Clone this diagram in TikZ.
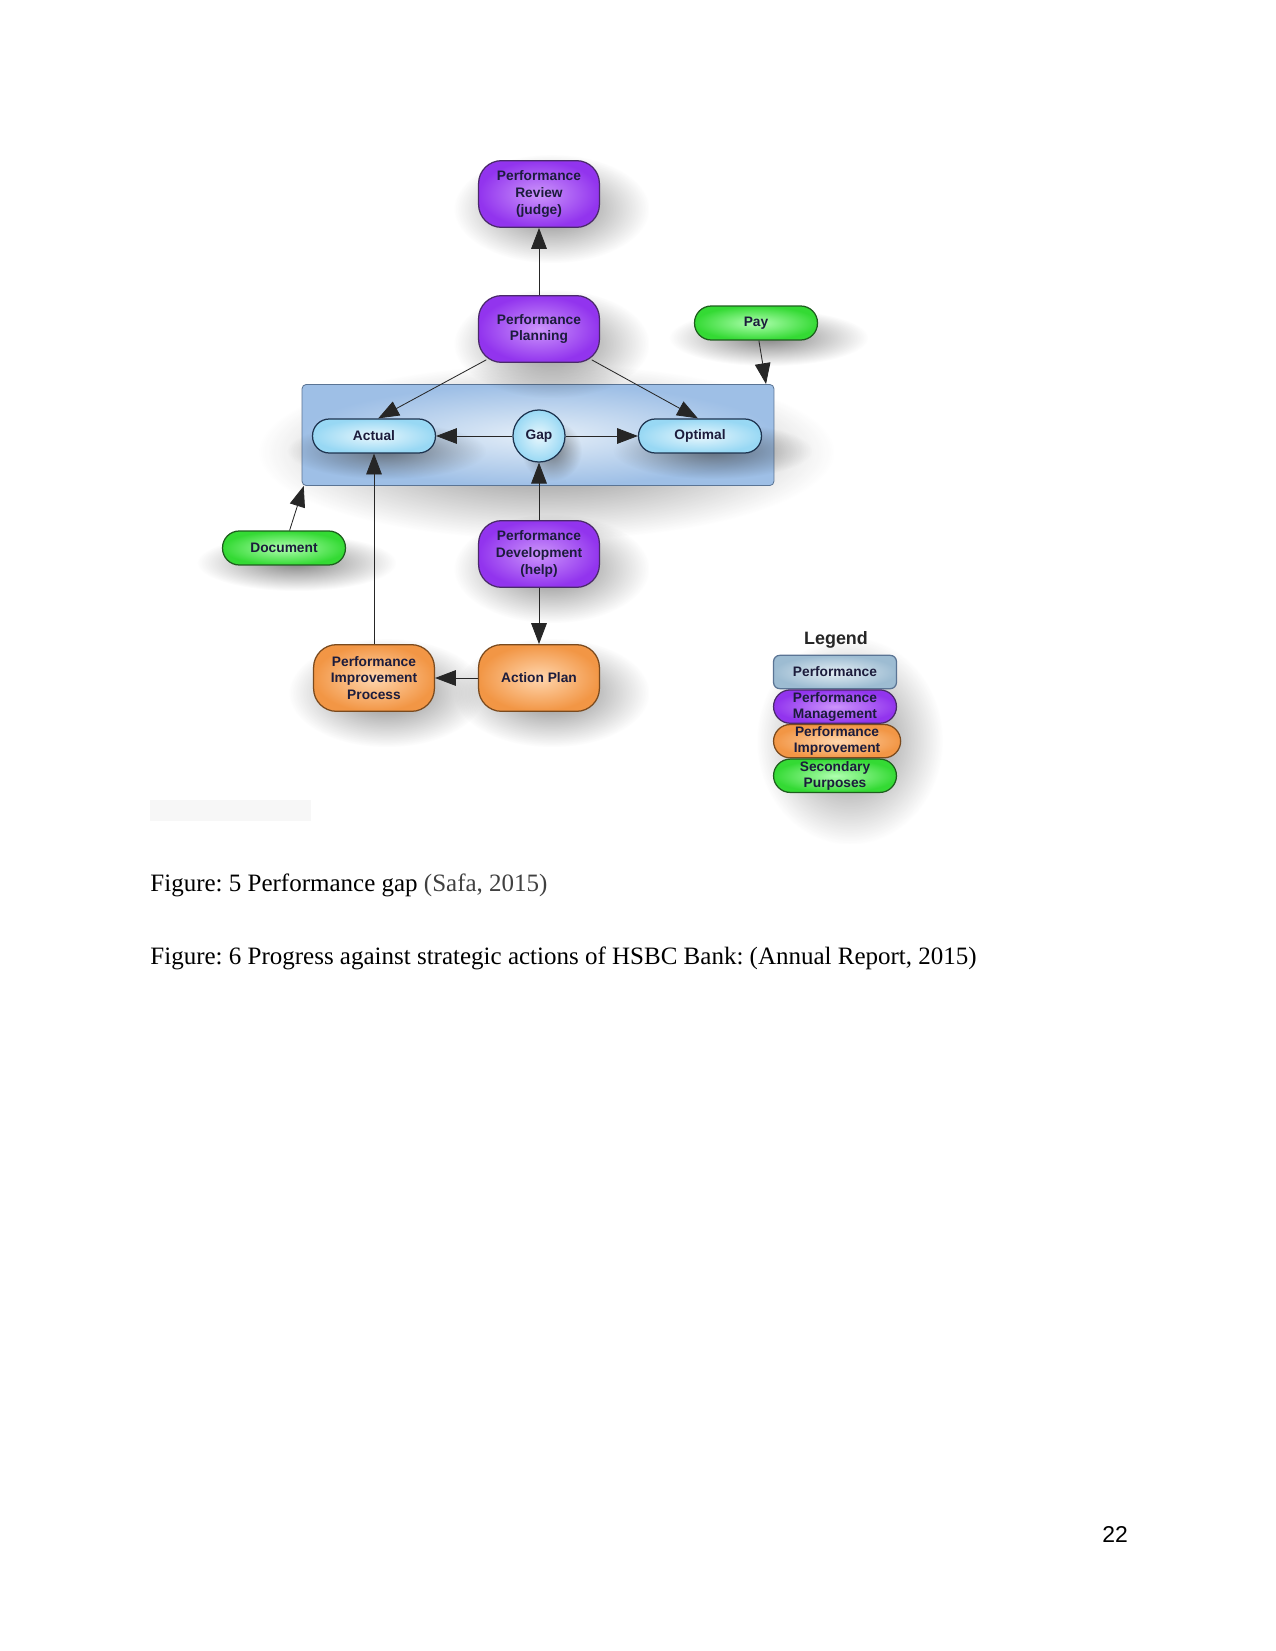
\documentclass[tikz,border=0pt]{standalone}
\usepackage{fontspec}
\setmainfont{Liberation Serif}
\setsansfont{Liberation Sans}
\frenchspacing
\usepackage{xcolor}
\definecolor{ink}{HTML}{1C1C3C}
\definecolor{cMgmtBg}{HTML}{9234EE}
\definecolor{cMgmtIn}{HTML}{CC95FB}
\definecolor{cMgmtFr}{HTML}{4A2A6A}
\definecolor{cImpBg}{HTML}{F29645}
\definecolor{cImpIn}{HTML}{FFD6AE}
\definecolor{cImpFr}{HTML}{7A4A1E}
\definecolor{cSecBg}{HTML}{34DA34}
\definecolor{cSecIn}{HTML}{B0FFB0}
\definecolor{cSecFr}{HTML}{1E5E1E}
\definecolor{cPerfBg}{HTML}{98D8F4}
\definecolor{cPerfIn}{HTML}{E8F7FD}
\definecolor{cPerfFr}{HTML}{1E3450}
\definecolor{cAreaBg}{HTML}{9EBFE6}
\definecolor{cAreaIn}{HTML}{E4EEF8}
\definecolor{cAreaFr}{HTML}{5A7494}
\definecolor{cLgdBg}{HTML}{9DBCD2}
\definecolor{cLgdIn}{HTML}{E4EEF4}
\usepackage{tikz}
\usetikzlibrary{arrows.meta,positioning,calc,fadings}
\tikzfading[name=shadowfade,inner color=transparent!40,outer color=transparent!100]
\pgfdeclarelayer{bg}
\pgfdeclarelayer{area}
\pgfdeclarelayer{nodeshadow}
\pgfsetlayers{bg,area,nodeshadow,main}
\newcommand\boxfont{\fontsize{6.6}{8.1}\selectfont\sffamily\bfseries}
\newcommand\lgdfont{\fontsize{6.6}{7.6}\selectfont\sffamily\bfseries}
\tikzset{>={Triangle[length=10pt,width=7.5pt]},
  shadowblob/.style={fill=black!80,path fading=shadowfade},
  nodetxt/.style={align=center,font=\boxfont,text=ink,inner sep=1pt},
  mgmtbox/.style={nodetxt,draw=cMgmtFr,semithick,rounded corners=11pt,
    minimum width=58pt,minimum height=32pt,inner color=cMgmtIn,outer color=cMgmtBg},
  impbox/.style={mgmtbox,draw=cImpFr,inner color=cImpIn,outer color=cImpBg},
  secpill/.style={nodetxt,draw=cSecFr,semithick,rounded corners=8pt,
    minimum width=59pt,minimum height=16.3pt,inner color=cSecIn,outer color=cSecBg},
  perfpill/.style={secpill,draw=cPerfFr,inner color=cPerfIn,outer color=cPerfBg},
  gapcircle/.style={nodetxt,circle,draw=cPerfFr,semithick,minimum size=25pt,
    inner color=cPerfIn,outer color=cPerfBg},
  perfarea/.style={draw=cAreaFr,rounded corners=2pt,minimum width=226.5pt,
    minimum height=48.5pt,inner color=cAreaIn,outer color=cAreaBg},
  lgdbox/.style={font=\lgdfont,text=ink,align=center,inner sep=0pt,semithick,
    minimum width=59pt,minimum height=16pt},
  flow/.style={->,thin,black!85},
  caption/.style={anchor=base west,inner sep=0pt,font=\fontsize{12}{14}\selectfont}}

\begin{document}
\begin{tikzpicture}[x=0.48pt,y=-0.48pt]
  \begin{pgfonlayer}{bg}
    \fill[white] (0,0) rectangle (1275,1651);
    \fill[black!3] (150,800) rectangle (311,821);
  \end{pgfonlayer}
  \useasboundingbox (0,0) rectangle (1275,1651);
  \begin{pgfonlayer}{area}
    \fill[shadowblob] ([shift={(-134pt,-50pt)}]538,435) rectangle ([shift={(142pt,34pt)}]538,435);
    \node[perfarea] (perf) at (538,435) {};
  \end{pgfonlayer}
  \node[mgmtbox] (review) at (539,194) {Performance\\Review\\(judge)};
  \node[mgmtbox] (planning) at (539,329) {Performance\\Planning};
  \node[secpill] (pay) at (756,323) {Pay};
  \node[perfpill] (actual) at (374,436) {Actual};
  \node[gapcircle] (gap) at (539,436) {Gap};
  \node[perfpill] (optimal) at (700,436) {Optimal};
  \node[secpill] (document) at (284,548) {Document};
  \node[mgmtbox] (develop) at (539,554) {Performance\\Development\\(help)};
  \node[impbox] (action) at (539,678) {Action Plan};
  \node[impbox] (pip) at (374,678) {Performance\\Improvement\\Process};
  \draw[flow] (planning) -- (review);
  \draw[flow] ([xshift=4pt,yshift=1.5pt]planning.south west) -- ([xshift=2pt]actual.north);
  \draw[flow] ([xshift=-4pt,yshift=1.5pt]planning.south east) -- ([xshift=-1pt]optimal.north);
  \draw[flow] (pay) -- ([xshift=-4pt]perf.north east);
  \draw[flow] (gap) -- (actual);
  \draw[flow] (gap) -- (optimal);
  \draw[flow] (document) -- ([xshift=1pt]perf.south west);
  \draw[flow] (develop) -- (gap);
  \draw[flow] (develop) -- (action);
  \draw[flow] (action) -- (pip);
  \draw[flow] (pip) -- (actual);
  % legend
  \node[font=\fontsize{8.6}{10}\selectfont\sffamily\bfseries,text=black!85] (lgdtitle) at (836,640) {Legend};
  \node[lgdbox,draw=cAreaFr,rounded corners=3pt,inner color=cLgdIn,outer color=cLgdBg] (lgdperf) at (835,672) {Performance};
  \node[lgdbox,draw=cMgmtFr,rounded corners=8pt,inner color=cMgmtIn,outer color=cMgmtBg,below=0pt of lgdperf] (lgdmgmt) {Performance\\Management};
  \node[lgdbox,draw=cImpFr,rounded corners=8pt,inner color=cImpIn,outer color=cImpBg,minimum width=61pt,below=0pt of lgdmgmt,xshift=1pt] (lgdimp) {Performance\\Improvement};
  \node[lgdbox,draw=cSecFr,rounded corners=8pt,inner color=cSecIn,outer color=cSecBg,below=0pt of lgdimp,xshift=-1pt] (lgdsec) {Secondary\\Purposes};
  % soft shadows
  \begin{pgfonlayer}{nodeshadow}
    \foreach \n in {review,planning,pay,actual,gap,optimal,document,develop,action,pip}
      \fill[shadowblob] ($(\n.south west)!-0.3!(\n.north east)+(6pt,-7pt)$) rectangle ($(\n.north east)!-0.3!(\n.south west)+(6pt,-7pt)$);
    \fill[shadowblob] ($(lgdsec.south west)!-0.25!(lgdperf.north east)+(7pt,-8pt)$) rectangle ($(lgdperf.north east)!-0.25!(lgdsec.south west)+(7pt,-8pt)$);
  \end{pgfonlayer}
  % captions
  \node[caption] (cap5) at (150,891) {Figure: 5 Performance gap \textcolor{black!75}{(Safa, 2015)}};
  \node[caption] (cap6) at (150,964) {Figure: 6 Progress against strategic actions of HSBC Bank: (Annual Report, 2015)};
  \node[anchor=base west,inner sep=0pt,font=\sffamily\fontsize{11}{13}\selectfont] (pagenum) at (1102,1542) {22};
\end{tikzpicture}
\end{document}
